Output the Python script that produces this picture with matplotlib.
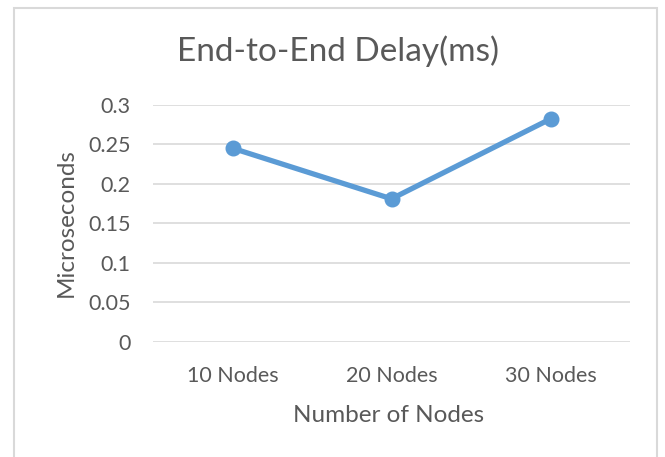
import matplotlib
matplotlib.use("Agg")
import matplotlib.pyplot as plt
from matplotlib.patches import Rectangle

categories = ["10 Nodes", "20 Nodes", "30 Nodes"]
delay = [0.245, 0.181, 0.282]
yticks = [0, 0.05, 0.1, 0.15, 0.2, 0.25, 0.3]
ytick_labels = ["0", "0.05", "0.1", "0.15", "0.2", "0.25", "0.3"]

plt.rcParams['font.family'] = ['Lato', 'DejaVu Sans']
text_color = "#595959"

fig = plt.figure(figsize=(6.65, 4.57), dpi=100)
fig.patch.set_facecolor("white")
fig.patches.append(Rectangle((14/665, -0.1), (657-14)/665, 1.1 - 8/457, transform=fig.transFigure,
                             fill=False, edgecolor="#d9d9d9", linewidth=1.5))

ax = fig.add_axes([153/665, 1-342/457, (630-153)/665, (342-104.7)/457])
x = list(range(len(categories)))
ax.plot(x, delay, color="#5b9bd5", linewidth=3.8, marker="o", markersize=10.5, clip_on=False, zorder=3)
ax.set_xlim(-0.5, len(categories) - 0.5)
ax.set_ylim(0, 0.3)
ax.set_yticks(yticks)
ax.set_yticklabels(ytick_labels)
ax.set_xticks(x)
ax.set_xticklabels(categories)
ax.grid(axis="y", color="#d9d9d9", linewidth=1.2)
ax.set_axisbelow(True)
for s in ax.spines.values():
    s.set_visible(False)
ax.tick_params(axis="both", length=0, colors=text_color, labelsize=15.5)
ax.tick_params(axis="y", pad=16)
ax.tick_params(axis="x", pad=17)

fig.text(338/665, 1-51/457, "End-to-End Delay(ms)", ha="center", va="center", fontsize=24, color=text_color)
fig.text(389/665, 1-416/457, "Number of Nodes", ha="center", va="center", fontsize=17.5, color=text_color)
fig.text(66/665, 1-223/457, "Microseconds", ha="center", va="center", rotation=90, fontsize=17.5, color=text_color)

fig.savefig("out.png", dpi=100)
